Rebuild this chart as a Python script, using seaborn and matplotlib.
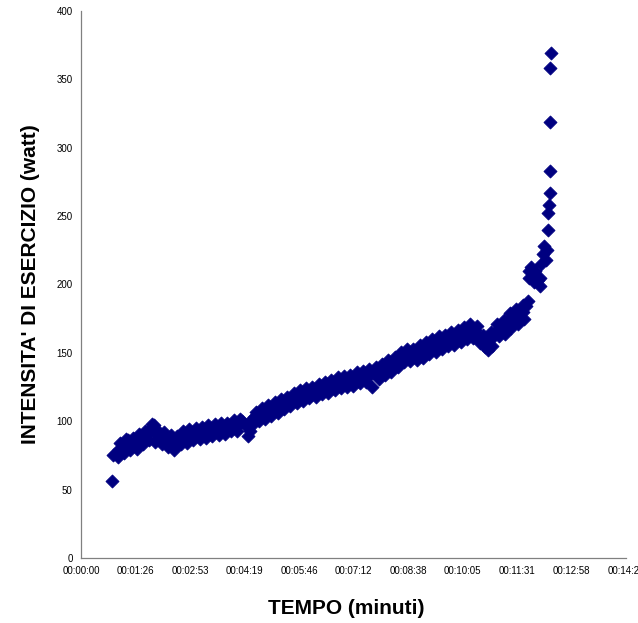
import matplotlib
matplotlib.use("Agg")
import matplotlib.pyplot as plt
import seaborn as sns
import pandas as pd

# elapsed time (seconds) and exercise intensity (watt)
tempo_s = [49, 50, 55, 60, 65, 70, 75, 80, 85, 90, 95, 100, 105, 110, 115, 120,
           125, 130, 135, 140, 145, 150, 155, 160, 165, 170, 175, 180, 185, 190,
           195, 200, 205, 210, 215, 220, 225, 230, 235, 240, 245, 250, 255, 260,
           265, 268, 270, 275, 280, 285, 290, 295, 300, 305, 310, 315, 320, 325,
           330, 335, 340, 345, 350, 355, 360, 365, 370, 375, 380, 385, 390, 395,
           400, 405, 410, 415, 420, 425, 430, 435, 440, 445, 450, 455, 461, 465,
           470, 475, 480, 485, 490, 495, 500, 505, 510, 515, 520, 525, 530, 535,
           540, 545, 550, 555, 560, 565, 570, 575, 580, 585, 590, 595, 600, 605,
           610, 615, 620, 625, 630, 635, 641, 645, 650, 655, 660, 665, 670, 675,
           680, 685, 690, 695, 700, 705, 708, 711, 713, 716, 720, 724, 727, 730,
           732, 734, 737, 739, 740, 741, 742, 743, 744, 743, 744, 745]
watt = [56, 75, 77, 80, 78, 83, 86, 82, 85, 87, 84, 88, 91, 94, 97, 90,
        88, 86, 89, 84, 87, 82, 85, 88, 91, 87, 90, 92, 89, 93,
        90, 94, 92, 95, 93, 96, 94, 97, 95, 98, 96, 99, 100, 97,
        89, 93, 101, 103, 104, 106, 105, 108, 107, 110, 109, 112, 114, 113,
        115, 117, 116, 118, 120, 119, 121, 119, 122, 121, 124, 122, 125, 124,
        127, 126, 128, 127, 129, 128, 131, 130, 132, 131, 134, 132, 125, 136,
        135, 138, 137, 140, 139, 142, 145, 144, 148, 150, 147, 149, 148, 151,
        149, 152, 155, 153, 157, 155, 158, 157, 160, 158, 162, 160, 164, 163,
        166, 168, 165, 167, 162, 158, 154, 157, 160, 164, 167, 170, 168, 172,
        175, 173, 177, 176, 180, 184, 188, 205, 213, 208, 210, 203, 199, 215,
        222, 228, 218, 225, 240, 252, 258, 267, 283, 319, 358, 369]

# further readings along the lower edge of the point cloud
tempo_low_s = [58, 68, 78, 88, 98, 108, 118, 128, 138, 148, 158, 168, 178, 188,
               198, 208, 218, 228, 238, 248, 272, 282, 292, 302, 312, 322, 332,
               342, 352, 362, 372, 382, 392, 402, 412, 422, 432, 442, 452, 472,
               482, 492, 502, 512, 522, 532, 542, 552, 562, 572, 582, 592, 602,
               612, 622, 632, 645, 652, 662, 672, 682, 692, 702, 718, 728]
watt_low = [74, 77, 79, 80, 83, 86, 85, 83, 81, 79, 83, 84, 86, 87,
            88, 89, 90, 91, 93, 93, 98, 100, 102, 104, 106, 109, 111,
            113, 115, 117, 118, 120, 121, 123, 124, 125, 126, 128, 129, 131,
            134, 136, 140, 143, 144, 145, 146, 149, 151, 153, 155, 156, 158,
            160, 161, 157, 152, 155, 162, 164, 168, 171, 175, 202, 205]

# further readings along the upper edge of the point cloud
tempo_high_s = [62, 72, 82, 92, 102, 112, 122, 132, 142, 152, 162, 172, 182, 192,
                202, 212, 222, 232, 242, 252, 277, 287, 297, 307, 317, 327, 337,
                347, 357, 367, 377, 387, 397, 407, 417, 427, 437, 447, 457, 467,
                477, 487, 497, 507, 517, 527, 537, 547, 557, 567, 577, 587, 597,
                607, 617, 627, 637, 650, 660, 670, 680, 690, 700, 710]
watt_high = [84, 87, 88, 91, 93, 98, 93, 92, 90, 89, 93, 94, 95, 96,
             97, 98, 99, 99, 101, 102, 107, 110, 112, 114, 116, 118, 121,
             123, 124, 125, 127, 129, 130, 132, 133, 134, 136, 137, 138, 140,
             142, 145, 147, 151, 153, 153, 156, 158, 160, 162, 163, 165, 167,
             169, 171, 170, 163, 165, 171, 174, 179, 182, 185, 210]

x_ticks_s = [0, 86.4, 172.8, 259.2, 345.6, 432, 518.4, 604.8, 691.2, 777.6, 864]
x_tick_labels = ["00:00:00", "00:01:26", "00:02:53", "00:04:19", "00:05:46",
                 "00:07:12", "00:08:38", "00:10:05", "00:11:31", "00:12:58",
                 "00:14:24"]
y_ticks = [0, 50, 100, 150, 200, 250, 300, 350, 400]

df = pd.DataFrame({"tempo": tempo_s + tempo_low_s + tempo_high_s,
                   "watt": watt + watt_low + watt_high})

sns.set_theme(style="white")
plt.rcParams["font.family"] = ["Liberation Sans", "DejaVu Sans"]
plt.rcParams["text.color"] = "#000000"
plt.rcParams["axes.labelcolor"] = "#000000"

fig = plt.figure(figsize=(6.38, 6.23), dpi=100)
ax = fig.add_axes([81 / 638, 65 / 623, 545 / 638, 547 / 623])

sns.scatterplot(data=df, x="tempo", y="watt", marker="D", s=44,
                color="#000080", edgecolor="#000080", linewidth=0.6, ax=ax,
                zorder=3)

ax.set_xlim(0, 864)
ax.set_ylim(0, 400)
ax.set_xticks(x_ticks_s)
ax.set_xticklabels(x_tick_labels)
ax.set_yticks(y_ticks)
ax.tick_params(axis="both", labelsize=7, labelcolor="#000000", length=4,
               width=0.8, direction="out", pad=2, color="#808080")
for side in ["top", "right"]:
    ax.spines[side].set_visible(False)
for side in ["left", "bottom"]:
    ax.spines[side].set_color("#808080")
    ax.spines[side].set_linewidth(0.9)

ax.set_xlabel("TEMPO (minuti)", fontsize=15, fontweight="bold")
ax.xaxis.set_label_coords(0.487, -0.075)
ax.set_ylabel("INTENSITA' DI ESERCIZIO (watt)", fontsize=15,
              fontweight="bold", labelpad=12)
ax.grid(False)

fig.savefig("out.png", dpi=100)
